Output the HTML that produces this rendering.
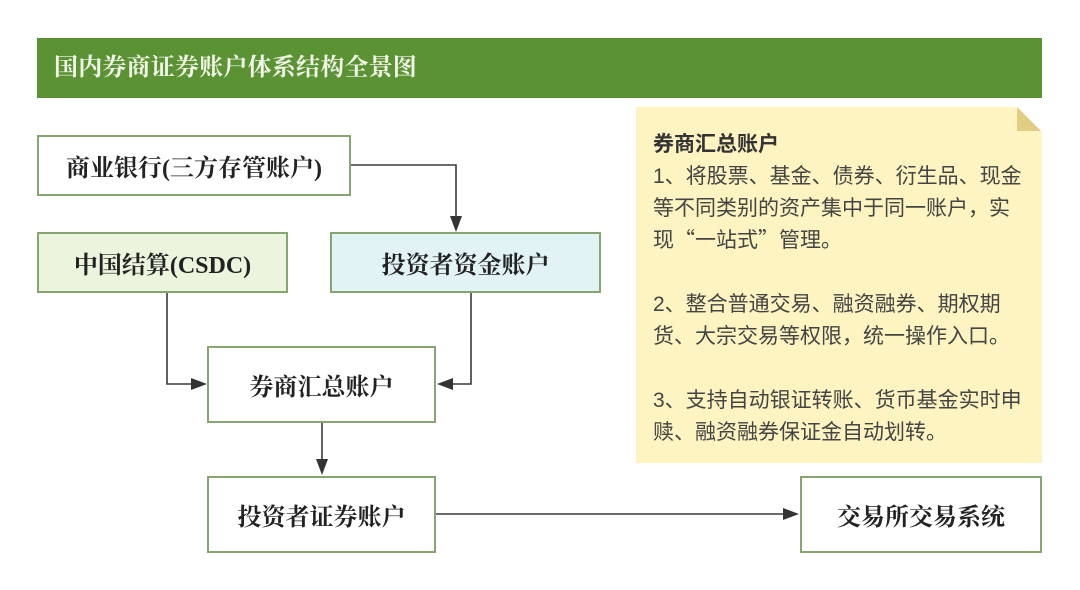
<!DOCTYPE html>
<html>
<head>
<meta charset="utf-8">
<style>
  html,body{margin:0;padding:0;background:#fff;}
  body{width:1080px;height:590px;position:relative;overflow:hidden;}
  .hdr{position:absolute;left:37px;top:38px;width:1005px;height:60px;background:#5b9334;}
  .hdr span{position:absolute;left:17px;top:0;line-height:60px;font-family:"Liberation Serif","Noto Serif CJK SC",serif;font-size:24px;font-weight:bold;color:#f1f6e8;white-space:nowrap;letter-spacing:0.2px;}
  .box{position:absolute;box-sizing:border-box;border:2px solid #86a570;display:flex;align-items:center;justify-content:center;font-family:"Liberation Serif","Noto Serif CJK SC",serif;font-weight:bold;font-size:24px;color:#222;white-space:nowrap;}
  .note{position:absolute;left:636px;top:107px;width:406px;height:356px;background:#fdf4c1;}
  .txt{font-family:"Liberation Sans","Noto Sans CJK SC",sans-serif;font-size:21px;line-height:32px;color:#444;white-space:nowrap;}
  .txt b{color:#333;}
  .line{display:block;height:32px;line-height:32px;overflow:visible;}
  .q{font-family:"Noto Sans CJK SC",sans-serif;line-height:0;}
</style>
</head>
<body>
<div class="hdr"><span>国内券商证券账户体系结构全景图</span></div>

<div class="note"></div>
<svg style="position:absolute;left:0;top:0" width="1080" height="590">
  <polygon points="1017,107 1042,107 1042,132" fill="#ffffff"/>
  <polygon points="1017,107 1017,131 1041,131" fill="#e2cd84"/>
</svg>
<div class="txt" style="position:absolute;left:653px;top:129px;">
<span class="line"><b>券商汇总账户</b></span>
<span class="line">1、将股票、基金、债券、衍生品、现金</span>
<span class="line">等不同类别的资产集中于同一账户，实</span>
<span class="line">现<span class="q">“</span>一站式<span class="q">”</span>管理。</span>
<span class="line"></span>
<span class="line">2、整合普通交易、融资融券、期权期</span>
<span class="line">货、大宗交易等权限，统一操作入口。</span>
<span class="line"></span>
<span class="line">3、支持自动银证转账、货币基金实时申</span>
<span class="line">赎、融资融券保证金自动划转。</span>
</div>

<div class="box" style="left:37px;top:135px;width:314px;height:61px;background:#fff;">商业银行(三方存管账户)</div>
<div class="box" style="left:37px;top:232px;width:251px;height:61px;background:#ebf4dc;">中国结算(CSDC)</div>
<div class="box" style="left:330px;top:232px;width:271px;height:61px;background:#e1f3f5;">投资者资金账户</div>
<div class="box" style="left:207px;top:346px;width:229px;height:77px;background:#fff;">券商汇总账户</div>
<div class="box" style="left:207px;top:476px;width:229px;height:77px;background:#fff;">投资者证券账户</div>
<div class="box" style="left:800px;top:476px;width:242px;height:77px;background:#fff;">交易所交易系统</div>

<svg style="position:absolute;left:0;top:0" width="1080" height="590">
  <g stroke="#3a3a3a" stroke-width="1.6" fill="none">
    <polyline points="351,165 456,165 456,218"/>
    <polyline points="167,293 167,384 192,384"/>
    <polyline points="471,293 471,384 452,384"/>
    <line x1="322" y1="423" x2="322" y2="460"/>
    <line x1="436" y1="514" x2="784" y2="514"/>
  </g>
  <g fill="#333">
    <polygon points="450,216 462,216 456,232"/>
    <polygon points="191,378 191,390 207,384"/>
    <polygon points="453,378 453,390 437,384"/>
    <polygon points="316,459 328,459 322,475"/>
    <polygon points="783,508 783,520 799,514"/>
  </g>
</svg>
</body>
</html>
